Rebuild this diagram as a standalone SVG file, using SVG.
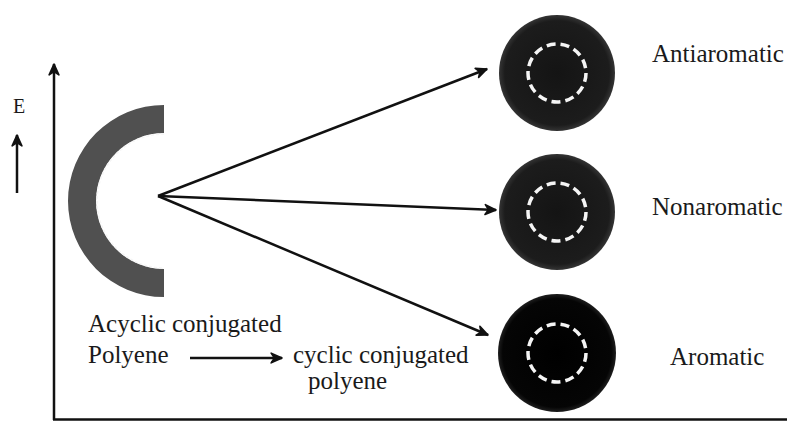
<svg xmlns="http://www.w3.org/2000/svg" width="787" height="422" viewBox="0 0 787 422">
<style>
.lbl{font-size:25px;}
.ln{stroke:#111;stroke-width:2.5;fill:none;}
.dash{fill:none;stroke:#f5f5f5;stroke-width:3.5;stroke-dasharray:9 5;}
</style>
<defs>
<marker id="ah" viewBox="0 0 12 12" refX="11" refY="6" markerWidth="13" markerHeight="13" markerUnits="userSpaceOnUse" orient="auto">
<path d="M1,1.5 L11,6 L1,10.5 L4,6 Z" fill="#111" stroke="#111" stroke-width="1.5" stroke-linejoin="round"/>
</marker>
<radialGradient id="g1" cx="0.5" cy="0.5" r="0.5">
<stop offset="0" stop-color="#141414"/>
<stop offset="0.9" stop-color="#1c1c1c"/>
<stop offset="1" stop-color="#343434"/>
</radialGradient>
<radialGradient id="g2" cx="0.5" cy="0.5" r="0.5">
<stop offset="0" stop-color="#000"/>
<stop offset="0.92" stop-color="#050505"/>
<stop offset="1" stop-color="#1e1e1e"/>
</radialGradient>
</defs>
<rect width="787" height="422" fill="#fff"/>
<g font-family="Liberation Serif, Times New Roman, serif" fill="#1a1a1a">
<g id="axes">
<line class="ln" x1="54" y1="420" x2="54" y2="64" marker-end="url(#ah)"/>
<line x1="53" y1="419.5" x2="787" y2="419.5" stroke="#111" stroke-width="2.5"/>
</g>
<g id="energy">
<text x="19" y="113" text-anchor="middle" font-size="20">E</text>
<line class="ln" x1="17" y1="193" x2="17" y2="135" marker-end="url(#ah)"/>
</g>
<g id="acyclic">
<path d="M164,105 A96,96 0 0 0 164,297 L164,269 A68,68 0 0 1 164,133 Z" fill="#505050"/>
<path class="dash" d="M164,134 A67,67 0 0 0 164,268" style="stroke-width:1.5;stroke-dasharray:3 2"/>
</g>
<g id="antiaromatic">
<circle cx="557" cy="73" r="58" fill="url(#g1)"/>
<circle class="dash" cx="557" cy="73" r="29"/>
<text class="lbl" x="652" y="62">Antiaromatic</text>
</g>
<g id="nonaromatic">
<circle cx="557" cy="212" r="58" fill="url(#g1)"/>
<circle class="dash" cx="557" cy="212" r="29"/>
<text class="lbl" x="652" y="215">Nonaromatic</text>
</g>
<g id="aromatic">
<circle cx="557" cy="353" r="59" fill="url(#g2)"/>
<circle class="dash" cx="557" cy="353" r="29"/>
<text class="lbl" x="670" y="365">Aromatic</text>
</g>
<g id="labels">
<text class="lbl" x="88" y="332">Acyclic conjugated</text>
<text class="lbl" x="88" y="363">Polyene</text>
<text class="lbl" x="293" y="363">cyclic conjugated</text>
<text class="lbl" x="308" y="389">polyene</text>
</g>
<g id="connectors">
<line class="ln" x1="158" y1="196" x2="487" y2="69" marker-end="url(#ah)"/>
<line class="ln" x1="158" y1="196" x2="496" y2="210" marker-end="url(#ah)"/>
<line class="ln" x1="158" y1="196" x2="488" y2="335" marker-end="url(#ah)"/>
<line class="ln" x1="190" y1="358" x2="282" y2="358" marker-end="url(#ah)"/>
</g>
</g>
</svg>
